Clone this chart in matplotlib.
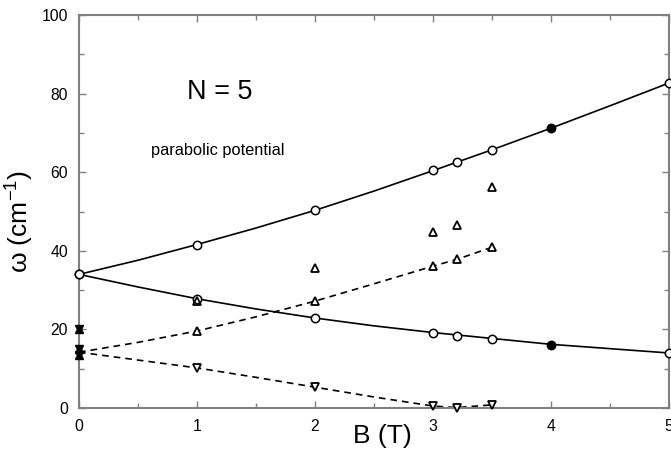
import matplotlib
matplotlib.use("Agg")
import matplotlib.pyplot as plt
from matplotlib.ticker import MultipleLocator

plt.rcParams['font.family'] = ['Liberation Sans', 'DejaVu Sans']
plt.rcParams['mathtext.fontset'] = 'custom'
plt.rcParams['mathtext.rm'] = 'Liberation Sans'
plt.rcParams['mathtext.default'] = 'regular'

# magnetic field values of the measured points
b_pts = [0, 1, 2, 3, 3.2, 3.5, 4, 5]
upper_pts = [34.0, 41.6, 50.4, 60.5, 62.6, 65.6, 71.2, 82.7]
lower_pts = [34.0, 27.7, 22.9, 19.1, 18.4, 17.6, 16.0, 14.0]
filled = [False, False, False, False, False, False, True, False]

# solid curves
b_curve = [0, 0.5, 1, 1.5, 2, 2.5, 3, 3.5, 4, 4.5, 5]
upper_curve = [34.0, 37.6, 41.6, 45.8, 50.3, 55.2, 60.4, 65.7, 71.2, 76.9, 82.7]
lower_curve = [34.0, 30.8, 27.8, 25.2, 22.9, 20.9, 19.2, 17.7, 16.2, 15.1, 14.0]

# dashed curves (triangles)
b_tri = [1, 2, 3, 3.2, 3.5]
up_tri = [19.6, 27.2, 36.1, 37.8, 40.9]
down_tri = [10.2, 5.3, 0.4, 0.0, 0.8]
extra_tri = [27.2, 35.6, 44.8, 46.6, 56.2]

b_dash = [0, 0.5, 1, 1.5, 2, 2.5, 3, 3.2, 3.5]
up_dash = [14.2, 16.7, 19.6, 23.2, 27.2, 31.6, 36.1, 37.8, 40.9]
down_dash = [14.2, 12.2, 10.2, 7.8, 5.3, 2.8, 0.5, 0.1, 0.8]

# B = 0 experimental points
zero_vals = [20.0, 15.0, 13.6]

fig = plt.figure(figsize=(6.71, 4.55), dpi=100)
ax = fig.add_axes([79/671, 1-408/455, 590/671, 393/455])

ax.plot(b_curve, upper_curve, color='k', lw=1.2)
ax.plot(b_curve, lower_curve, color='k', lw=1.2)
ax.plot(b_dash, up_dash, color='k', lw=1.2, ls=(0, (4, 3)))
ax.plot(b_dash, down_dash, color='k', lw=1.2, ls=(0, (4, 3)))

for b, u, l, f in zip(b_pts, upper_pts, lower_pts, filled):
    fc = 'k' if f else 'white'
    ax.plot([b, b], [u, l], ls='none', marker='o', ms=6, mfc=fc, mec='k',
            mew=1.1, clip_on=False, zorder=3)

ax.plot(b_tri, extra_tri, ls='none', marker='^', ms=6, mfc='none', mec='k', mew=1.3, zorder=3)
ax.plot(b_tri, up_tri, ls='none', marker='^', ms=6, mfc='white', mec='k', mew=1.3, zorder=3)
ax.plot(b_tri, down_tri, ls='none', marker='v', ms=6, mfc='white', mec='k', mew=1.3,
        clip_on=False, zorder=3)
ax.plot([0]*len(zero_vals), zero_vals, ls='none', marker='^', ms=6, color='k', clip_on=False, zorder=4)
ax.plot([0]*len(zero_vals), zero_vals, ls='none', marker='v', ms=6, color='k', clip_on=False, zorder=4)

ax.text(1.19, 80.4, 'N = 5', fontsize=19.5, ha='center', va='center')
ax.text(1.18, 65.6, 'parabolic potential', fontsize=11.8, ha='center', va='center')

ax.set_xlim(0, 5)
ax.set_ylim(0, 100)
ax.xaxis.set_major_locator(MultipleLocator(1))
ax.xaxis.set_minor_locator(MultipleLocator(0.5))
ax.yaxis.set_major_locator(MultipleLocator(20))
ax.yaxis.set_minor_locator(MultipleLocator(10))
ax.tick_params(which='both', direction='in', top=True, right=True, color='#808080',
               labelsize=11.3, pad=8)
ax.tick_params(which='major', length=5, width=1)
ax.tick_params(which='minor', length=3.5, width=1)
for s in ax.spines.values():
    s.set_color('#808080')
    s.set_linewidth(1.5)

ax.set_xlabel('B (T)', fontsize=19)
ax.xaxis.set_label_coords(0.515, -0.04)
ax.xaxis.label.set_va('top')
ax.set_ylabel('ω (cm$^{-1}$)', fontsize=19)
ax.yaxis.set_label_coords(-0.073, 0.475)

fig.savefig('out.png', dpi=100)
